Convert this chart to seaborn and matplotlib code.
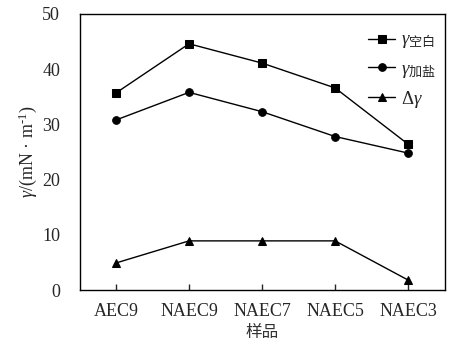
import matplotlib
matplotlib.use("Agg")
import matplotlib.pyplot as plt
import seaborn as sns
import pandas as pd

samples = ["AEC9", "NAEC9", "NAEC7", "NAEC5", "NAEC3"]
gamma_blank = [35.7, 44.6, 41.1, 36.6, 26.4]
gamma_salt = [30.8, 35.8, 32.3, 27.8, 24.8]
delta_gamma = [4.9, 8.9, 8.9, 8.9, 1.8]
series_labels = [r"$\gamma_{\mathsf{空白}}$", r"$\gamma_{\mathsf{加盐}}$", r"$\Delta\gamma$"]
markers = ["s", "o", "^"]
yticks = [0, 10, 20, 30, 40, 50]

sns.set_style("ticks")
plt.rcParams["font.family"] = ["Liberation Serif", "Noto Sans CJK SC"]
plt.rcParams["mathtext.fontset"] = "custom"
plt.rcParams["mathtext.rm"] = "Liberation Serif"
plt.rcParams["mathtext.it"] = "Liberation Serif:italic"
plt.rcParams["mathtext.sf"] = "Noto Sans CJK SC"

rows = []
for lab, vals in zip(series_labels, [gamma_blank, gamma_salt, delta_gamma]):
    for i, (s, v) in enumerate(zip(samples, vals)):
        rows.append({"idx": i, "sample": s, "value": v, "series": lab})
df = pd.DataFrame(rows)

fig = plt.figure(figsize=(4.77, 3.49), dpi=100)
ax = fig.add_axes([0.1667, 0.169, 0.7655, 0.791])

sns.lineplot(data=df, x="idx", y="value", hue="series", style="series",
             palette=["black"] * 3, markers=markers, dashes=False,
             markersize=5.5, linewidth=1.0, markeredgecolor="black", ax=ax)

ax.set_xlim(-0.5, len(samples) - 0.5)
ax.set_ylim(0, 50)
ax.set_xticks(range(len(samples)))
ax.set_xticklabels(samples, fontsize=13)
ax.set_yticks(yticks)
ax.set_yticklabels([str(t) for t in yticks], fontsize=13)
ax.tick_params(axis="x", direction="in", length=4, width=1, pad=9)
ax.tick_params(axis="y", length=0, pad=14)
for sp in ax.spines.values():
    sp.set_linewidth(1.0)
    sp.set_color("black")
    sp.set_visible(True)

ax.set_xlabel("样品", fontsize=12, family=["Noto Sans CJK SC"], color="#333333", labelpad=3)
ax.set_ylabel(r"$\mathit{\gamma}$/(mN · m$^{\mathrm{\text{-}1}}$)", fontsize=13, labelpad=2)

leg = ax.legend(loc="upper right", frameon=False, fontsize=13.5, handlelength=1.4,
                handletextpad=0.35, bbox_to_anchor=(1.0, 0.965), labelspacing=0.5,
                borderaxespad=0.05)

fig.savefig("out.png", dpi=100)
